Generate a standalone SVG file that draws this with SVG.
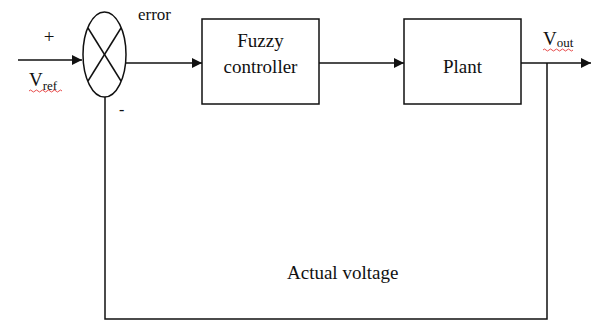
<svg xmlns="http://www.w3.org/2000/svg" width="593" height="320" viewBox="0 0 593 320">
<style>
.ln{fill:none;stroke:#111;stroke-width:1.5}
.bx{fill:#fff;stroke:#111;stroke-width:1.5}
.t{font-family:"Liberation Serif","Times New Roman",serif;fill:#111;font-size:19px}
.s{font-size:13px}
.wv{fill:none;stroke:#e02020;stroke-width:0.8}
</style>
<defs>
<marker id="ah" markerWidth="10" markerHeight="10" refX="10" refY="5" orient="auto" markerUnits="userSpaceOnUse">
<path d="M0,0 L10,5 L0,10 Z" fill="#111"/>
</marker>
</defs>
<rect width="593" height="320" fill="#fff"/>
<g id="connectors">
<line class="ln" x1="18" y1="60" x2="82" y2="60" marker-end="url(#ah)"/>
<line class="ln" x1="126" y1="63" x2="202" y2="63" marker-end="url(#ah)"/>
<line class="ln" x1="319" y1="63" x2="404" y2="63" marker-end="url(#ah)"/>
<line class="ln" x1="521" y1="63" x2="591" y2="63" marker-end="url(#ah)"/>
<polyline class="ln" points="547,63 547,319 105,319 105,97"/>
</g>
<g id="summing">
<ellipse class="ln" cx="104.5" cy="54.5" rx="21.5" ry="42.5"/>
<line class="ln" x1="88" y1="28" x2="121" y2="81"/>
<line class="ln" x1="121" y1="28" x2="88" y2="81"/>
</g>
<g id="fuzzy">
<rect class="bx" x="202" y="19" width="117" height="85"/>
<text class="t" x="260.5" y="47" text-anchor="middle">Fuzzy</text>
<text class="t" x="260.5" y="73" text-anchor="middle">controller</text>
</g>
<g id="plant">
<rect class="bx" x="404" y="19" width="117" height="85"/>
<text class="t" x="462.5" y="73" text-anchor="middle">Plant</text>
</g>
<g id="labels">
<text class="t" x="49" y="43" text-anchor="middle" font-size="16">+</text>
<text class="t" x="138" y="20" style="font-size:17px">error</text>
<text class="t" x="29" y="86">V<tspan class="s" dy="4">ref</tspan></text>
<path class="wv" d="M29,91 q1.5,-2 3,0 t3,0 t3,0 t3,0 t3,0 t3,0 t3,0 t3,0 t3,0 t3,0 t3,0"/>
<text class="t" x="119" y="115" style="font-size:16px">-</text>
<text class="t" x="543" y="45">V<tspan class="s" dy="2">out</tspan></text>
<path class="wv" d="M543,50 q1.5,-2 3,0 t3,0 t3,0 t3,0 t3,0 t3,0 t3,0 t3,0 t3,0 t3,0"/>
<text class="t" x="287" y="279">Actual voltage</text>
</g>
</svg>
